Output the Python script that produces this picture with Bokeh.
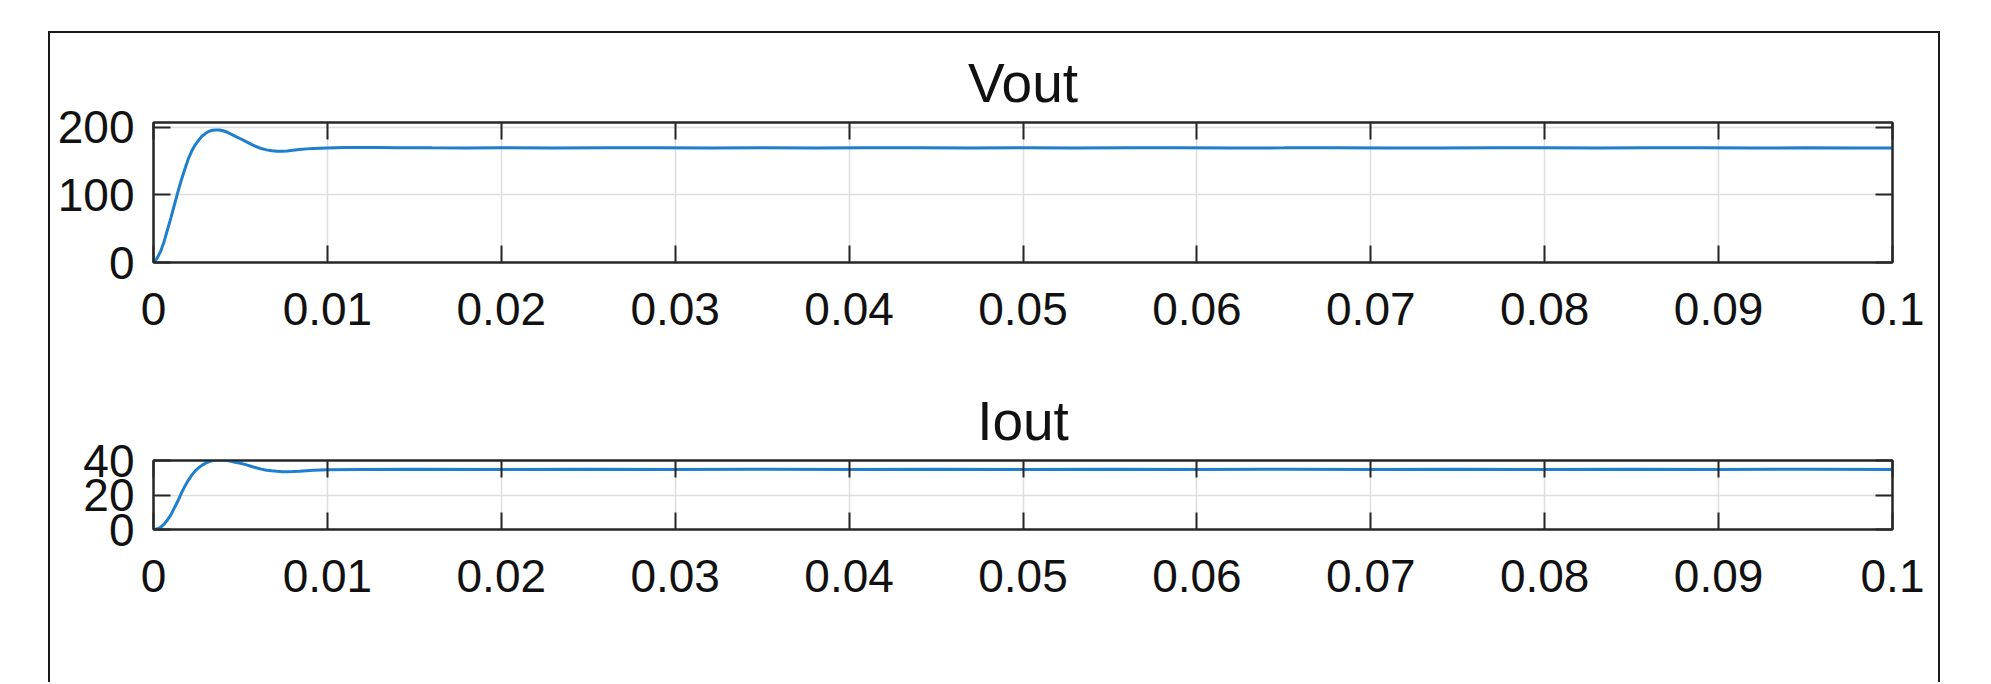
from bokeh.plotting import figure
from bokeh.models import LinearAxis, FixedTicker, Range1d, CustomJSTickFormatter
from bokeh.layouts import column
from bokeh.embed import file_html
from bokeh.resources import INLINE

# ---------------- data ----------------
titles = ["Vout", "Iout"]

t_vout = [0, 0.0002, 0.0004, 0.0006, 0.0008, 0.001, 0.0012, 0.0014, 0.0016, 0.0018,
          0.002, 0.0022, 0.0024, 0.0026, 0.0028, 0.003, 0.0032, 0.0034, 0.0036, 0.0038,
          0.004, 0.0042, 0.0044, 0.0046, 0.0048, 0.005, 0.0053, 0.0056, 0.0059, 0.0062,
          0.0065, 0.0068, 0.0071, 0.0074, 0.0077, 0.008, 0.0084, 0.0088, 0.0092, 0.0096,
          0.01, 0.011, 0.012, 0.013, 0.014, 0.016, 0.018, 0.02, 0.023, 0.026,
          0.029, 0.032, 0.035, 0.038, 0.041, 0.044, 0.047, 0.05, 0.053, 0.056,
          0.059, 0.062, 0.065, 0.068, 0.071, 0.074, 0.077, 0.08, 0.083, 0.086,
          0.089, 0.092, 0.095, 0.098, 0.1]
vout = [0, 6, 16, 30, 48, 66, 85, 104, 122, 138,
        153, 165, 174, 181, 187, 191, 194, 195.5, 196, 195.8,
        194.8, 193, 190.5, 188, 185.5, 183, 179, 175, 171.5, 168.5,
        166.5, 165.2, 164.6, 164.5, 164.9, 165.8, 167, 168, 168.7, 169.1,
        169.4, 169.9, 170.2, 170.1, 169.8, 169.5, 169.3, 169.6, 169.4, 169.7,
        169.5, 169.3, 169.6, 169.4, 169.5, 169.7, 169.4, 169.6, 169.3, 169.5,
        169.6, 169.4, 169.5, 169.7, 169.4, 169.3, 169.6, 169.5, 169.4, 169.6,
        169.5, 169.3, 169.5, 169.4, 169.3]

t_iout = [0, 0.0002, 0.0004, 0.0006, 0.0008, 0.001, 0.0012, 0.0014, 0.0016, 0.0018,
          0.002, 0.0022, 0.0024, 0.0026, 0.0028, 0.003, 0.0032, 0.0034, 0.0036, 0.0038,
          0.004, 0.0042, 0.0044, 0.0047, 0.005, 0.0053, 0.0056, 0.0059, 0.0062, 0.0065,
          0.0068, 0.0071, 0.0074, 0.0077, 0.008, 0.0084, 0.0088, 0.0092, 0.0096, 0.01,
          0.012, 0.015, 0.02, 0.025, 0.03, 0.035, 0.04, 0.045, 0.05, 0.055,
          0.06, 0.065, 0.07, 0.075, 0.08, 0.085, 0.09, 0.095, 0.1]
iout = [0, 0.3, 1.3, 3, 5.5, 8.5, 12.5, 16.5, 21, 25,
        28.5, 31.5, 34, 35.8, 37.3, 38.5, 39.4, 40, 40.3, 40.4,
        40.3, 40, 39.7, 39, 38.4, 37.6, 36.7, 35.8, 35, 34.4,
        34, 33.7, 33.5, 33.5, 33.6, 33.8, 34.1, 34.3, 34.5, 34.6,
        34.8, 34.9, 34.8, 34.9, 34.8, 34.9, 34.8, 34.9, 34.8, 34.9,
        34.8, 34.9, 34.8, 34.9, 34.8, 34.9, 34.8, 34.9, 34.8]

x_ticks = [0, 0.01, 0.02, 0.03, 0.04, 0.05, 0.06, 0.07, 0.08, 0.09, 0.1]
x_tick_labels = ["0", "0.01", "0.02", "0.03", "0.04", "0.05", "0.06", "0.07", "0.08", "0.09", "0.1"]
vout_ticks = [0, 100, 200]
vout_tick_labels = ["0", "100", "200"]
iout_ticks = [0, 20, 40]
iout_tick_labels = ["0", "20", "40"]

x_limits = (0, 0.1)
vout_limits = (0, 207)
iout_limits = (0, 40)

# ---------------- styling ----------------
FONT = "Liberation Sans"
TICK_FS = "46px"
TITLE_FS = "55px"
AX_COLOR = "#262626"
GRID_COLOR = "#dedede"
LINE_COLOR = "#1f7fcf"
FIG_W = 1888
TICK_LEN = 17
blank = CustomJSTickFormatter(code="return ''")


def style_axis(ax, ticker, labels=None, ticks=None, standoff=0):
    ax.ticker = ticker
    ax.axis_line_color = AX_COLOR
    ax.axis_line_width = 2
    ax.major_tick_line_color = AX_COLOR
    ax.major_tick_line_width = 2
    ax.major_tick_in = TICK_LEN
    ax.major_tick_out = 0
    ax.minor_tick_in = 0
    ax.minor_tick_out = 0
    ax.minor_tick_line_color = None
    if labels is None:
        ax.formatter = blank
        ax.major_label_standoff = 0
        ax.major_label_text_font_size = "1px"
    else:
        ax.major_label_overrides = {tk: lb for tk, lb in zip(ticks, labels)}
        ax.major_label_text_font = FONT
        ax.major_label_text_font_size = TICK_FS
        ax.major_label_text_color = "#111111"
        ax.major_label_standoff = standoff


def make_panel(title, t, y, ylim, yticks, yticklabels, height, top, bottom):
    p = figure(width=FIG_W, height=height, x_range=Range1d(*x_limits),
               y_range=Range1d(*ylim), output_backend="svg", toolbar_location=None,
               min_border_left=103, min_border_right=46,
               min_border_top=top, min_border_bottom=bottom)
    p.title.text = title
    p.title.align = "center"
    p.title.text_font = FONT
    p.title.text_font_size = TITLE_FS
    p.title.text_font_style = "normal"
    p.title.text_color = "#111111"
    p.title.standoff = 18

    xt = FixedTicker(ticks=x_ticks)
    yt = FixedTicker(ticks=yticks)
    style_axis(p.xaxis[0], xt, x_tick_labels, x_ticks, standoff=30)
    style_axis(p.yaxis[0], yt, yticklabels, yticks, standoff=19)
    ax_top = LinearAxis()
    style_axis(ax_top, FixedTicker(ticks=x_ticks))
    ax_right = LinearAxis()
    style_axis(ax_right, FixedTicker(ticks=yticks))
    p.add_layout(ax_top, "above")
    p.add_layout(ax_right, "right")

    p.xgrid.ticker = FixedTicker(ticks=x_ticks)
    p.ygrid.ticker = FixedTicker(ticks=yticks)
    p.grid.grid_line_color = GRID_COLOR
    p.grid.grid_line_width = 1.5

    p.outline_line_color = AX_COLOR
    p.outline_line_width = 2
    p.background_fill_color = "white"
    p.border_fill_color = "white"

    p.line(t, y, line_color=LINE_COLOR, line_width=3)
    return p


p1 = make_panel(titles[0], t_vout, vout, vout_limits, vout_ticks, vout_tick_labels,
                height=339, top=89, bottom=110)
p2 = make_panel(titles[1], t_iout, iout, iout_limits, iout_ticks, iout_tick_labels,
                height=310, top=88, bottom=153)

layout = column(p1, p2, margin=(31, 0, 0, 48),
                styles={"border-top": "2px solid #1a1a1a",
                        "border-left": "2px solid #1a1a1a",
                        "border-right": "2px solid #1a1a1a",
                        "background": "white"})

open("out.html", "w").write(file_html(layout, INLINE))
